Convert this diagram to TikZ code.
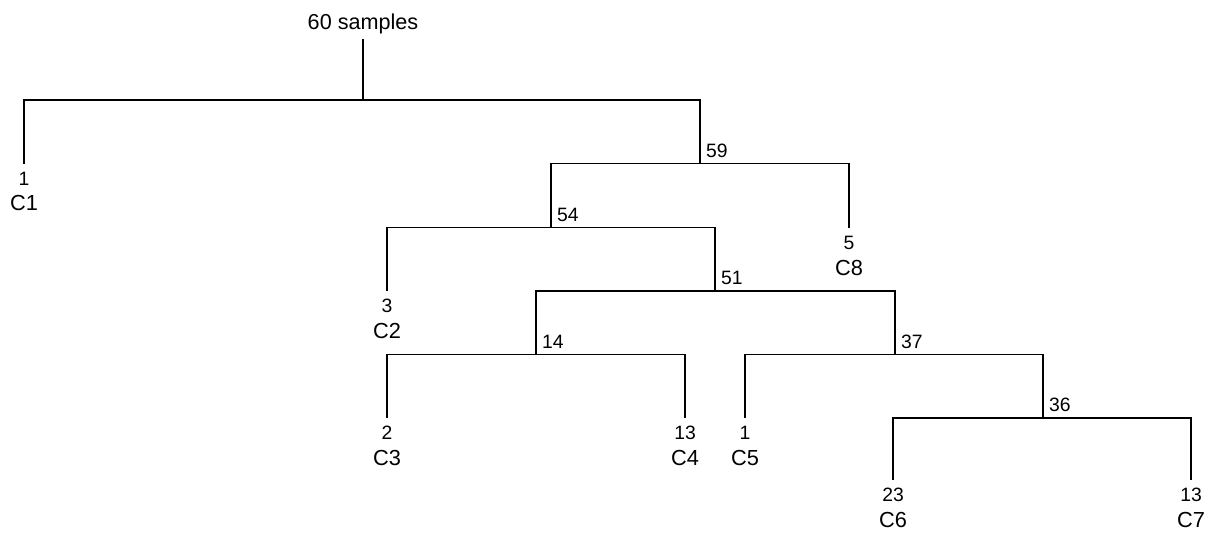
\documentclass[tikz,border=0pt]{standalone}
\usepackage{fontspec}
\setmainfont{Liberation Sans}
\usetikzlibrary{positioning}

\begin{document}
\begin{tikzpicture}[
    cnt/.style={anchor=north, inner xsep=1pt, inner ysep=4.6pt, font=\fontsize{11}{13}\selectfont},
    cls/.style={inner sep=0.3pt, font=\fontsize{12.4}{14}\selectfont},
    split/.style={anchor=south west, inner sep=3.3pt, font=\fontsize{11}{13}\selectfont},
    branch/.style={line width=0.6pt, black}
]
    \useasboundingbox (0,0) rectangle (24.2,-10.64);
    \node[inner sep=2.5pt, font=\fontsize{12.3}{14}\selectfont] (top) at (7.26,-0.48) {60 samples};
    \coordinate (r) at (7.26,-2.00);
    \coordinate (j59) at (14.00,-3.27);
    \coordinate (j54) at (11.02,-4.55);
    \coordinate (j51) at (14.30,-5.82);
    \coordinate (j14) at (10.72,-7.09);
    \coordinate (j37) at (17.90,-7.09);
    \coordinate (j36) at (20.86,-8.36);
    \node[split] (s59) at (j59) {59};
    \node[split] (s54) at (j54) {54};
    \node[split] (s51) at (j51) {51};
    \node[split] (s14) at (j14) {14};
    \node[split] (s37) at (j37) {37};
    \node[split] (s36) at (j36) {36};
    \node[cnt] (k1) at (0.48,-3.27) {1};
    \node[cnt] (k8) at (16.98,-4.55) {5};
    \node[cnt] (k2) at (7.74,-5.82) {3};
    \node[cnt] (k3) at (7.74,-8.36) {2};
    \node[cnt] (k4) at (13.70,-8.36) {13};
    \node[cnt] (k5) at (14.90,-8.36) {1};
    \node[cnt] (k6) at (17.86,-9.60) {23};
    \node[cnt] (k7) at (23.82,-9.60) {13};
    \node[cls, below=0.6pt of k1] (c1) {C1};
    \node[cls, below=0.6pt of k8] (c8) {C8};
    \node[cls, below=0.6pt of k2] (c2) {C2};
    \node[cls, below=0.6pt of k3] (c3) {C3};
    \node[cls, below=0.6pt of k4] (c4) {C4};
    \node[cls, below=0.6pt of k5] (c5) {C5};
    \node[cls, below=0.6pt of k6] (c6) {C6};
    \node[cls, below=0.6pt of k7] (c7) {C7};
    \draw[branch] (top) -- (r);
    \draw[branch] (r) -| (k1);
    \draw[branch] (r) -| (j59);
    \draw[branch] (j59) -| (j54);
    \draw[branch] (j59) -| (k8);
    \draw[branch] (j54) -| (k2);
    \draw[branch] (j54) -| (j51);
    \draw[branch] (j51) -| (j14);
    \draw[branch] (j51) -| (j37);
    \draw[branch] (j14) -| (k3);
    \draw[branch] (j14) -| (k4);
    \draw[branch] (j37) -| (k5);
    \draw[branch] (j37) -| (j36);
    \draw[branch] (j36) -| (k6);
    \draw[branch] (j36) -| (k7);
\end{tikzpicture}
\end{document}
